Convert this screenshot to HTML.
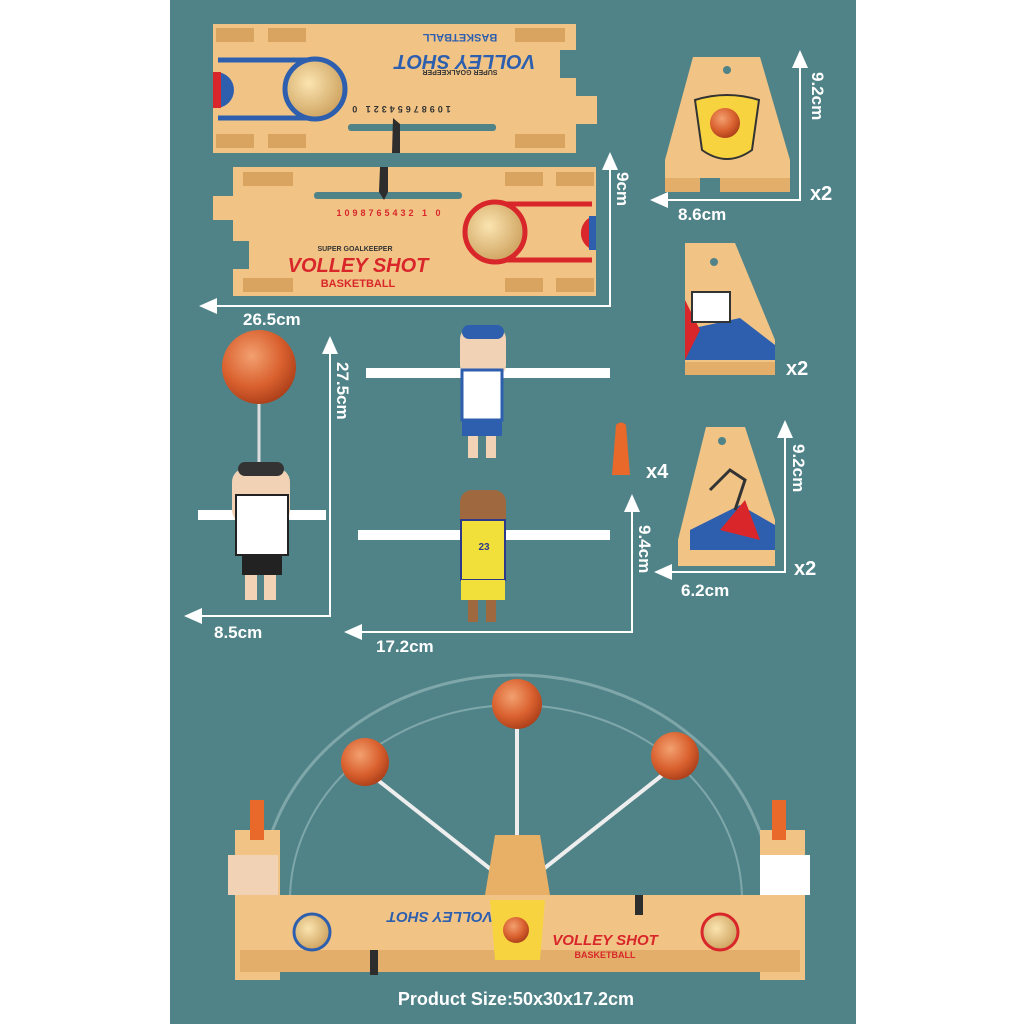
<!DOCTYPE html>
<html><head><meta charset="utf-8"><style>
html,body{margin:0;padding:0;background:#fff}
svg{display:block}
text{font-family:"Liberation Sans",sans-serif;font-weight:bold}
</style></head><body>
<svg width="1024" height="1024" viewBox="0 0 1024 1024" xmlns="http://www.w3.org/2000/svg">
<rect x="0" y="0" width="1024" height="1024" fill="#fff"/>
<rect x="170" y="0" width="686" height="1024" fill="#508388"/>
<defs>
<marker id="ar" markerWidth="10" markerHeight="10" refX="5" refY="5" orient="auto-start-reverse"><path d="M0,1 L9,5 L0,9 z" fill="#fff"/></marker>
<radialGradient id="ball" cx="0.4" cy="0.35" r="0.7"><stop offset="0" stop-color="#f3a070"/><stop offset="0.6" stop-color="#d9602e"/><stop offset="1" stop-color="#a83c18"/></radialGradient>
<radialGradient id="hole" cx="0.4" cy="0.4" r="0.7"><stop offset="0" stop-color="#fbe4b0"/><stop offset="1" stop-color="#c89a55"/></radialGradient>
</defs>
<!-- board 1 -->
<g>
<rect x="213" y="24" width="363" height="129" fill="#f1c486"/>
<rect x="576" y="96" width="21" height="28" fill="#f1c486"/>
<rect x="560" y="50" width="16" height="28" fill="#508388"/>
<rect x="216" y="28" width="38" height="14" fill="#d9a460"/><rect x="268" y="28" width="38" height="14" fill="#d9a460"/>
<rect x="216" y="134" width="38" height="14" fill="#d9a460"/><rect x="268" y="134" width="38" height="14" fill="#d9a460"/>
<rect x="515" y="28" width="50" height="14" fill="#d9a460"/><rect x="515" y="134" width="50" height="14" fill="#d9a460"/>
<path d="M218,60 H315 A31,31 0 0 1 315,118 H218" fill="none" stroke="#2d5fae" stroke-width="5"/>
<circle cx="315" cy="89" r="30" fill="url(#hole)" stroke="#2d5fae" stroke-width="5"/>
<path d="M216,72 A18,18 0 0 1 216,108 Z" fill="#2d5fae"/><rect x="213" y="72" width="8" height="36" fill="#d8262a"/>
<text x="0" y="0" transform="translate(465,55) rotate(180)" font-size="20" fill="#2d5fae" font-style="italic" text-anchor="middle">VOLLEY SHOT</text>
<text x="0" y="0" transform="translate(460,34) rotate(180)" font-size="11" fill="#2d5fae" text-anchor="middle">BASKETBALL</text>
<text x="0" y="0" transform="translate(460,70) rotate(180)" font-size="7" fill="#333" text-anchor="middle">SUPER GOALKEEPER</text>
<text x="0" y="0" transform="translate(400,106) rotate(180)" font-size="9" fill="#333" text-anchor="middle" letter-spacing="3">10987654321 0</text>
<rect x="348" y="124" width="148" height="7" rx="3" fill="#508388"/>
<path d="M393,118 L400,124 L400,153 L392,153 Z" fill="#2d2d2d"/>
</g>
<!-- board 2 -->
<g>
<rect x="233" y="167" width="363" height="129" fill="#f1c486"/>
<rect x="213" y="196" width="20" height="24" fill="#f1c486"/>
<rect x="233" y="241" width="16" height="28" fill="#508388"/>
<rect x="243" y="172" width="50" height="14" fill="#d9a460"/><rect x="243" y="278" width="50" height="14" fill="#d9a460"/>
<rect x="505" y="172" width="38" height="14" fill="#d9a460"/><rect x="556" y="172" width="38" height="14" fill="#d9a460"/>
<rect x="505" y="278" width="38" height="14" fill="#d9a460"/><rect x="556" y="278" width="38" height="14" fill="#d9a460"/>
<path d="M592,204 H495 A31,31 0 0 0 495,260 H592" fill="none" stroke="#d8262a" stroke-width="5"/>
<circle cx="495" cy="232" r="30" fill="url(#hole)" stroke="#d8262a" stroke-width="5"/>
<path d="M593,216 A18,18 0 0 0 593,250 Z" fill="#d8262a"/><rect x="589" y="216" width="7" height="34" fill="#2d5fae"/>
<rect x="314" y="192" width="148" height="7" rx="3" fill="#508388"/>
<path d="M380,167 L388,167 L388,192 L384,200 L379,192 Z" fill="#2d2d2d"/>
<text x="390" y="216" font-size="9" fill="#d8262a" text-anchor="middle" letter-spacing="3">1098765432 1 0</text>
<text x="355" y="251" font-size="7" fill="#333" text-anchor="middle">SUPER GOALKEEPER</text>
<text x="358" y="272" font-size="20" fill="#d8262a" font-style="italic" text-anchor="middle">VOLLEY SHOT</text>
<text x="358" y="287" font-size="11" fill="#d8262a" text-anchor="middle">BASKETBALL</text>
</g>
<!-- dimension 26.5 / 9 -->
<path d="M610,160 V306 H207" fill="none" stroke="#fff" stroke-width="2" marker-start="url(#ar)" marker-end="url(#ar)"/>
<text x="243" y="325" font-size="17" fill="#fff">26.5cm</text>
<text x="0" y="0" transform="translate(617,172) rotate(90)" font-size="17" fill="#fff">9cm</text>
<!-- piece 1 -->
<path d="M693,57 L760,57 L790,160 L790,192 L665,192 L665,160 Z" fill="#f1c486"/>
<rect x="665" y="178" width="125" height="14" fill="#e2ae6a"/>
<rect x="700" y="178" width="20" height="14" fill="#508388"/>
<circle cx="727" cy="70" r="4" fill="#508388"/>
<path d="M695,100 Q727,90 759,100 L752,150 Q727,168 702,150 Z" fill="#f7d340" stroke="#333" stroke-width="2"/>
<circle cx="725" cy="123" r="15" fill="url(#ball)"/>
<path d="M800,58 V200 H658" fill="none" stroke="#fff" stroke-width="2" marker-start="url(#ar)" marker-end="url(#ar)"/>
<text x="0" y="0" transform="translate(812,72) rotate(90)" font-size="17" fill="#fff">9.2cm</text>
<text x="678" y="220" font-size="17" fill="#fff">8.6cm</text>
<text x="810" y="200" font-size="20" fill="#fff">x2</text>
<!-- piece 2 -->
<path d="M685,243 L735,243 L775,340 L775,375 L685,375 Z" fill="#f1c486"/>
<circle cx="714" cy="262" r="4" fill="#508388"/>
<path d="M685,330 L740,318 L775,345 L775,360 L685,360 Z" fill="#2d5fae"/>
<path d="M685,300 L700,330 L685,360 Z" fill="#d8262a"/>
<rect x="692" y="292" width="38" height="30" fill="#fff" stroke="#333" stroke-width="2"/>
<rect x="685" y="362" width="90" height="13" fill="#e2ae6a"/>
<text x="786" y="375" font-size="20" fill="#fff">x2</text>
<!-- peg -->
<path d="M616,425 Q621,420 626,425 L630,475 L612,475 Z" fill="#e8692a"/>
<text x="646" y="478" font-size="20" fill="#fff">x4</text>
<!-- piece 3 -->
<path d="M706,427 L745,427 L775,520 L775,566 L678,566 L678,540 Z" fill="#f1c486"/>
<circle cx="722" cy="441" r="4" fill="#508388"/>
<path d="M690,530 L740,505 L775,525 L775,550 L690,550 Z" fill="#2d5fae"/>
<path d="M720,530 L745,500 L760,540 Z" fill="#d8262a"/>
<path d="M710,490 L730,470 L745,480 L735,510" fill="none" stroke="#333" stroke-width="3"/>
<path d="M785,428 V572 H662" fill="none" stroke="#fff" stroke-width="2" marker-start="url(#ar)" marker-end="url(#ar)"/>
<text x="0" y="0" transform="translate(793,444) rotate(90)" font-size="17" fill="#fff">9.2cm</text>
<text x="681" y="596" font-size="17" fill="#fff">6.2cm</text>
<text x="794" y="575" font-size="20" fill="#fff">x2</text>
<!-- ball player -->
<circle cx="259" cy="367" r="37" fill="url(#ball)"/>
<path d="M259,404 V470" stroke="#ddd" stroke-width="3"/>
<rect x="198" y="510" width="128" height="10" fill="#fff"/>
<rect x="232" y="468" width="58" height="56" rx="14" fill="#f1d2b5"/>
<rect x="236" y="495" width="52" height="60" fill="#fff" stroke="#222" stroke-width="2"/>
<rect x="242" y="555" width="40" height="20" fill="#222"/>
<rect x="245" y="575" width="12" height="25" fill="#f1d2b5"/><rect x="264" y="575" width="12" height="25" fill="#f1d2b5"/>
<rect x="238" y="462" width="46" height="14" rx="7" fill="#333"/>
<path d="M330,344 V616 H192" fill="none" stroke="#fff" stroke-width="2" marker-start="url(#ar)" marker-end="url(#ar)"/>
<text x="0" y="0" transform="translate(337,362) rotate(90)" font-size="17" fill="#fff">27.5cm</text>
<text x="214" y="638" font-size="17" fill="#fff">8.5cm</text>
<!-- player 2 -->
<rect x="366" y="368" width="244" height="10" fill="#fff"/>
<rect x="460" y="327" width="46" height="50" rx="12" fill="#f1d2b5"/>
<rect x="462" y="325" width="42" height="14" rx="7" fill="#2d5fae"/>
<rect x="462" y="370" width="40" height="50" fill="#fff" stroke="#2d5fae" stroke-width="3"/>
<rect x="462" y="420" width="40" height="16" fill="#2d5fae"/>
<rect x="468" y="436" width="10" height="22" fill="#f1d2b5"/><rect x="486" y="436" width="10" height="22" fill="#f1d2b5"/>
<!-- player 3 -->
<rect x="358" y="530" width="252" height="10" fill="#fff"/>
<rect x="460" y="490" width="46" height="50" rx="12" fill="#a0683f"/>
<rect x="461" y="520" width="44" height="60" fill="#f2e03a" stroke="#2d3a8a" stroke-width="2"/>
<text x="484" y="550" font-size="10" fill="#2d3a8a" text-anchor="middle">23</text>
<rect x="461" y="580" width="44" height="20" fill="#f2e03a"/>
<rect x="468" y="600" width="10" height="22" fill="#a0683f"/><rect x="486" y="600" width="10" height="22" fill="#a0683f"/>
<path d="M632,502 V632 H352" fill="none" stroke="#fff" stroke-width="2" marker-start="url(#ar)" marker-end="url(#ar)"/>
<text x="0" y="0" transform="translate(639,525) rotate(90)" font-size="17" fill="#fff">9.4cm</text>
<text x="376" y="652" font-size="17" fill="#fff">17.2cm</text>
<!-- assembled game -->
<path d="M260,900 A256,225 0 0 1 772,900" fill="none" stroke="#7fa7aa" stroke-width="3"/>
<path d="M290,900 A226,195 0 0 1 742,900" fill="none" stroke="#7fa7aa" stroke-width="2"/>
<path d="M517,890 V720 M517,890 L365,770 M517,890 L675,765" stroke="#eee" stroke-width="4"/>
<circle cx="517" cy="704" r="25" fill="url(#ball)"/>
<circle cx="365" cy="762" r="24" fill="url(#ball)"/>
<circle cx="675" cy="756" r="24" fill="url(#ball)"/>
<path d="M485,895 L495,835 L540,835 L550,895 Z" fill="#e8b066"/>
<rect x="235" y="830" width="45" height="150" fill="#f1c486"/>
<rect x="760" y="830" width="45" height="150" fill="#f1c486"/>
<rect x="250" y="800" width="14" height="40" fill="#e8692a"/><rect x="772" y="800" width="14" height="40" fill="#e8692a"/>
<rect x="228" y="855" width="50" height="40" fill="#f1d2b5"/>
<rect x="760" y="855" width="50" height="40" fill="#fff"/>
<rect x="270" y="895" width="490" height="65" fill="#f1c486"/>
<rect x="240" y="950" width="560" height="22" fill="#e2ae6a"/>
<circle cx="312" cy="932" r="18" fill="url(#hole)" stroke="#2d5fae" stroke-width="3"/>
<circle cx="720" cy="932" r="18" fill="url(#hole)" stroke="#d8262a" stroke-width="3"/>
<path d="M490,900 L545,900 L540,960 L495,960 Z" fill="#f7d340"/>
<circle cx="516" cy="930" r="13" fill="url(#ball)"/>
<text x="0" y="0" transform="translate(440,912) rotate(180)" font-size="15" fill="#2d5fae" font-style="italic" text-anchor="middle">VOLLEY SHOT</text>
<text x="605" y="945" font-size="15" fill="#d8262a" font-style="italic" text-anchor="middle">VOLLEY SHOT</text>
<text x="605" y="958" font-size="9" fill="#d8262a" text-anchor="middle">BASKETBALL</text>
<rect x="370" y="950" width="8" height="25" fill="#2d2d2d"/><rect x="635" y="895" width="8" height="20" fill="#2d2d2d"/>
<text x="516" y="1005" font-size="18" fill="#fff" text-anchor="middle">Product Size:50x30x17.2cm</text>
</svg>
</body></html>
